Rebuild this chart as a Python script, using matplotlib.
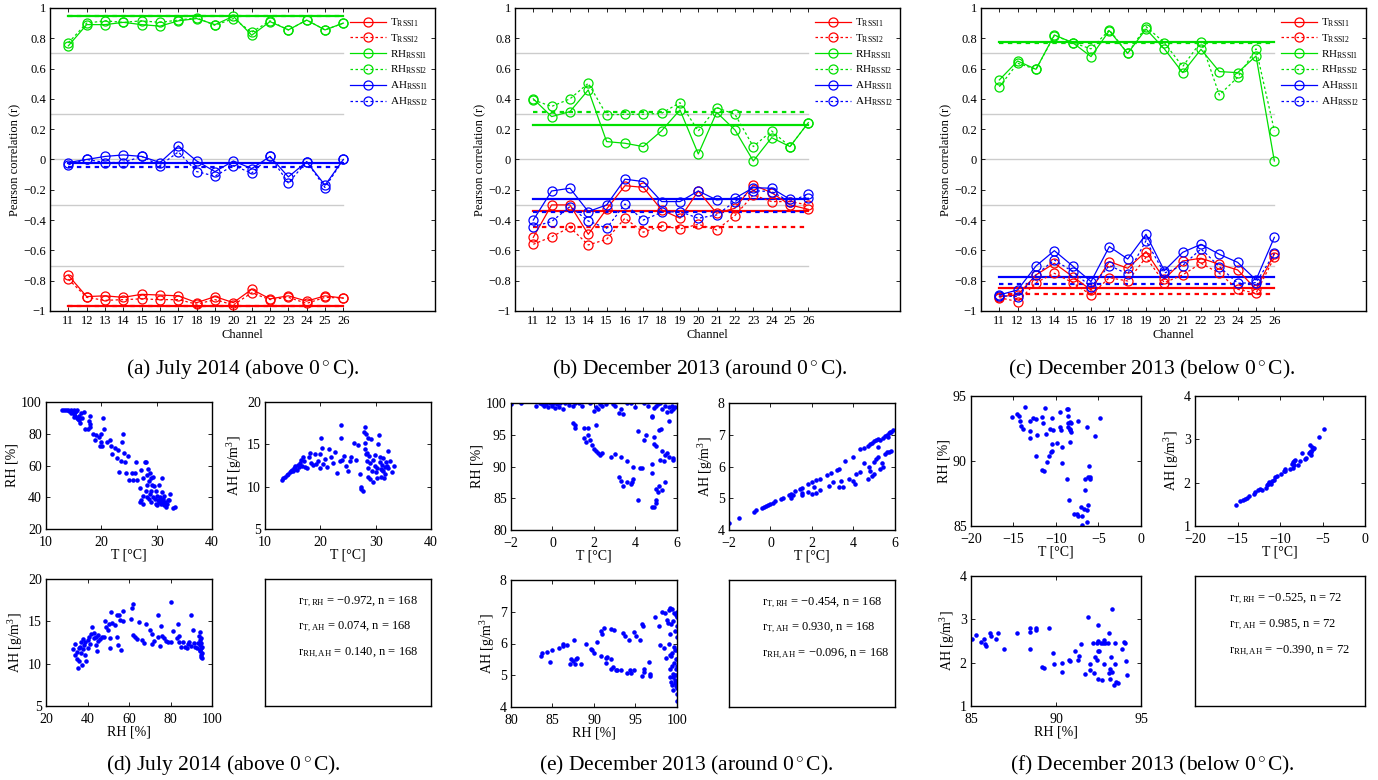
import matplotlib
matplotlib.use('Agg')
import matplotlib.pyplot as plt
from matplotlib.ticker import FuncFormatter

plt.rcParams['font.family'] = ['Liberation Serif', 'DejaVu Serif']
plt.rcParams['mathtext.fontset'] = 'custom'
plt.rcParams['mathtext.rm'] = 'Liberation Serif'
plt.rcParams['mathtext.it'] = 'Liberation Serif:italic'

channels = list(range(11, 27))

# (a) July 2014
a_T1 = [-0.765, -0.905, -0.90, -0.91, -0.89, -0.895, -0.90, -0.945, -0.905, -0.945, -0.857, -0.92, -0.90, -0.935, -0.90, -0.915]
a_T2 = [-0.79, -0.91, -0.93, -0.925, -0.92, -0.925, -0.925, -0.955, -0.925, -0.96, -0.88, -0.925, -0.91, -0.95, -0.91, -0.915]
a_RH1 = [0.75, 0.89, 0.89, 0.905, 0.89, 0.88, 0.915, 0.93, 0.89, 0.945, 0.82, 0.91, 0.855, 0.92, 0.855, 0.90]
a_RH2 = [0.77, 0.90, 0.915, 0.905, 0.915, 0.905, 0.92, 0.935, 0.885, 0.93, 0.84, 0.915, 0.855, 0.92, 0.855, 0.90]
a_AH1 = [-0.02, 0.0, 0.02, 0.03, 0.02, -0.02, 0.09, -0.01, -0.08, -0.01, -0.06, 0.02, -0.115, -0.015, -0.17, 0.0]
a_AH2 = [-0.035, 0.0, -0.02, -0.02, 0.02, -0.04, 0.05, -0.08, -0.11, -0.04, -0.09, 0.02, -0.155, -0.015, -0.185, 0.0]
a_means = [-0.965, -0.97, 0.95, 0.945, -0.02, -0.047]

# (b) December 2013, around 0 C
b_T1 = [-0.514, -0.30, -0.30, -0.494, -0.327, -0.173, -0.184, -0.333, -0.388, -0.208, -0.355, -0.322, -0.168, -0.219, -0.30, -0.329]
b_T2 = [-0.56, -0.51, -0.448, -0.564, -0.527, -0.388, -0.48, -0.437, -0.459, -0.428, -0.465, -0.37, -0.234, -0.278, -0.278, -0.30]
b_RH1 = [0.40, 0.283, 0.316, 0.459, 0.118, 0.107, 0.085, 0.19, 0.327, 0.036, 0.311, 0.195, -0.01, 0.144, 0.085, 0.243]
b_RH2 = [0.393, 0.35, 0.40, 0.503, 0.294, 0.298, 0.298, 0.305, 0.375, 0.188, 0.342, 0.298, 0.085, 0.188, 0.085, 0.243]
b_AH1 = [-0.40, -0.208, -0.19, -0.344, -0.30, -0.13, -0.146, -0.278, -0.278, -0.208, -0.267, -0.256, -0.186, -0.19, -0.263, -0.256]
b_AH2 = [-0.443, -0.41, -0.311, -0.406, -0.454, -0.294, -0.40, -0.349, -0.344, -0.388, -0.366, -0.278, -0.206, -0.212, -0.278, -0.228]
b_means = [-0.338, -0.448, 0.228, 0.316, -0.263, -0.349]

# (c) December 2013, below 0 C
c_T1 = [-0.905, -0.894, -0.762, -0.685, -0.773, -0.861, -0.674, -0.718, -0.608, -0.79, -0.67, -0.652, -0.692, -0.729, -0.857, -0.624]
c_T2 = [-0.912, -0.938, -0.813, -0.751, -0.813, -0.894, -0.78, -0.802, -0.646, -0.813, -0.762, -0.685, -0.751, -0.857, -0.883, -0.646]
c_RH1 = [0.525, 0.65, 0.595, 0.822, 0.771, 0.679, 0.85, 0.70, 0.861, 0.73, 0.573, 0.727, 0.58, 0.573, 0.683, -0.01]
c_RH2 = [0.48, 0.635, 0.595, 0.818, 0.771, 0.73, 0.855, 0.70, 0.877, 0.771, 0.613, 0.778, 0.426, 0.542, 0.73, 0.19]
c_AH1 = [-0.894, -0.861, -0.703, -0.602, -0.703, -0.806, -0.575, -0.657, -0.494, -0.734, -0.613, -0.56, -0.626, -0.679, -0.795, -0.514]
c_AH2 = [-0.90, -0.905, -0.762, -0.663, -0.74, -0.84, -0.70, -0.756, -0.536, -0.75, -0.70, -0.59, -0.707, -0.817, -0.813, -0.62]
c_means = [-0.85, -0.89, 0.776, 0.771, -0.778, -0.824]

series_labels = ['T$_{\\mathrm{RSSI1}}$', 'T$_{\\mathrm{RSSI2}}$', 'RH$_{\\mathrm{RSSI1}}$',
                 'RH$_{\\mathrm{RSSI2}}$', 'AH$_{\\mathrm{RSSI1}}$', 'AH$_{\\mathrm{RSSI2}}$']
top_captions = ['(a) July 2014 (above 0$^\\circ$C).', '(b) December 2013 (around 0$^\\circ$C).',
                '(c) December 2013 (below 0$^\\circ$C).']
bottom_captions = ['(d) July 2014 (above 0$^\\circ$C).', '(e) December 2013 (around 0$^\\circ$C).',
                   '(f) December 2013 (below 0$^\\circ$C).']

# scatter data (T, RH), (T, AH), (RH, AH)
d_T_RH = [(12.9,95),(13.3,95),(13.6,94.8),(14.0,95),(14.2,94.5),(14.5,95),(14.8,94),(15.0,95),(15.2,93.5),(15.4,94.6),
          (15.6,95),(15.0,92.5),(15.3,91),(15.6,90),(15.8,89),(16.0,88.5),(16.2,87),(16.5,90),(16.9,94),(14.6,93),
          (15.9,91.5),(16.3,93),(15.1,90.5),(17.0,83),(17.5,83),(18.0,86),(18.0,84),(17.8,88),(18.0,91),(18.5,80),
          (18.9,76),(19.0,79),(19.5,78),(19.9,80),(20.0,75),(20.2,72),(19.8,72),(20.3,90),(20.5,83),(21.0,75),
          (21.5,76),(21.8,72),(22.0,67),(22.5,71),(22.8,65),(23.0,70),(23.2,56),(23.5,63),(23.8,75),(23.9,80),
          (24.0,68),(24.2,62),(24.5,55),(24.8,66),(25.0,51),(25.5,55),(25.8,51),(26.0,55),(26.2,62),(26.5,51),
          (27.0,46),(27.2,57),(27.5,52),(27.8,62),(28.0,62),(28.2,54),(28.5,58),(28.6,50),(28.8,55),(29.0,52),
          (29.2,48),(29.5,47),(28.2,48),(28.0,44),(27.5,41),(27.2,38),(27.6,36),(27.0,37),(28.3,40),(28.8,42),
          (29.0,37),(29.3,40),(29.6,39),(29.8,44),(30.0,41),(30.2,38),(30.5,37),(30.6,40),(30.8,36),(31.0,43),
          (31.2,39),(31.4,35),(31.5,37),(31.6,34),(31.8,36),(32.0,38),(32.2,38),(31.3,41),(30.9,52),(30.0,35),
          (30.4,48),(29.4,53),(33.3,34),(33.0,33),(32.4,42),(29.9,36),(31.1,37),(30.7,38.5),(28.6,39),(28.9,44)]
d_T_AH = [(13.0,10.8),(13.3,11.0),(13.6,11.1),(14.0,11.4),(14.2,11.5),(14.5,11.7),(14.7,11.8),(14.9,12.0),(15.0,11.9),
          (15.2,12.2),(15.4,12.1),(15.5,12.4),(15.7,12.0),(15.9,12.6),(16.1,12.3),(16.3,12.8),(16.5,13.2),(16.7,12.4),
          (16.9,13.5),(17.0,13.0),(17.3,12.3),(17.6,12.2),(17.9,13.5),(18.1,14.0),(18.3,12.8),(18.6,12.6),(19.0,13.8),
          (19.3,12.7),(19.6,13.0),(19.9,12.2),(20.0,13.9),(20.2,15.8),(20.3,14.6),(20.5,12.7),(20.8,13.3),(21.2,12.3),
          (21.6,14.4),(21.9,13.5),(22.3,12.8),(22.6,14.1),(23.0,11.6),(23.5,13.0),(23.7,15.8),(23.8,17.3),(24.0,13.2),
          (24.3,13.6),(24.6,12.4),(25.0,11.9),(25.3,13.0),(25.6,13.5),(26.0,15.2),(26.5,13.1),(26.8,14.9),(27.1,11.5),
          (27.3,10.0),(27.4,9.7),(27.7,9.5),(27.8,16.5),(28.0,17.0),(28.0,15.2),(28.1,14.5),(28.3,16.2),(28.4,14.0),
          (28.5,13.0),(28.6,12.2),(28.7,15.7),(28.8,13.6),(28.9,10.9),(29.0,12.8),(29.2,15.6),(29.3,11.8),(29.5,10.5),
          (29.6,13.2),(29.8,12.5),(30.0,11.7),(30.2,11.0),(30.3,12.2),(30.5,15.0),(30.6,16.1),(30.7,13.5),(30.8,12.9),
          (31.0,11.2),(31.1,12.0),(31.2,12.6),(31.3,11.8),(31.4,13.4),(31.5,11.0),(31.6,12.3),(31.8,12.9),(32.0,12.5),
          (32.2,14.2),(32.3,12.2),(32.6,13.0),(33.0,11.7),(33.3,12.4),(30.9,12.1),(31.7,11.5),(29.9,13.7),(28.2,13.9),
          (28.6,11.2)]
d_RH_AH = [(33,11.7),(34,11.0),(34,12.3),(35,10.6),(35,11.4),(35.5,9.5),(36,11.8),(36,10.3),(36.5,12.0),(37,11.2),
           (37,12.6),(37.5,9.8),(38,11.7),(38,12.9),(38.5,12.2),(39,11.0),(39,12.5),(39.5,10.3),(40,11.8),(40,12.8),
           (40.5,13.1),(41,12.3),(41.5,13.5),(42,14.3),(43,13.0),(43,13.6),(44,12.2),(44,13.2),(44.5,11.5),(45,12.7),
           (45,13.4),(46,12.9),(47,13.2),(48,13.1),(48.5,15.0),(49,14.3),(50,14.0),(50.5,14.7),(51,13.0),(51,11.9),
           (51.5,16.1),(52,14.8),(53,14.6),(54,15.8),(54,13.2),(54.5,12.2),(55,15.8),(55.5,15.2),(56,11.6),(57,16.2),
           (57,15.0),(61,15.3),(61.5,16.6),(62,17.0),(62,13.4),(63,13.2),(64,12.9),(65,14.9),(66,12.8),(67,12.4),
           (68,14.7),(70,14.0),(71,12.3),(71,13.5),(72,12.7),(74,15.8),(74,13.2),(75,12.1),(75.5,14.5),(76,13.3),
           (77,13.0),(78,12.7),(79,12.6),(80,17.3),(80,12.5),(81,13.9),(83,13.0),(83.5,14.7),(84,12.5),(84,13.3),
           (85,12.0),(86,12.6),(87,12.0),(88,11.8),(88.5,12.3),(89,12.6),(90,15.8),(90,12.1),(91,14.0),(91.5,12.4),
           (92,12.0),(92.5,11.8),(93,12.4),(93.5,13.3),(94,11.5),(94,12.2),(94.2,13.7),(94.4,12.8),(94.5,11.9),
           (94.6,11.0),(94.8,12.4),(94.9,10.8),(95,12.0),(95,11.3),(94.7,13.0),(94.3,11.6),(95,10.7)]

e_T_RH = [(-2.0,99.8),(-1.5,100),(-0.8,99.6),(-0.6,100),(-0.4,99.5),(-0.3,99.8),(-0.2,99.3),(-0.1,100),(0.0,99.6),
          (0.05,100),(0.1,99.2),(0.2,99.8),(0.3,99.4),(0.5,99.0),(0.6,100),(0.8,99.7),(1.0,99.5),(1.1,100),(1.3,100),
          (1.4,99.6),(1.8,100),(2.0,98.8),(2.1,99.4),(2.2,99.1),(2.3,99.8),(2.4,99.5),(2.6,99.8),(3.0,99.6),(3.2,98.5),
          (3.3,99.0),(3.4,98.2),(3.8,100),(4.0,99.3),(4.4,100),(4.6,99.5),(4.8,98.0),(4.9,99.2),(5.0,99.5),(5.1,99.8),
          (5.2,100),(5.3,99.0),(5.4,99.6),(5.5,98.6),(5.6,99.3),(5.7,98.8),(5.75,99.5),(5.8,99.1),(5.9,99.3),(5.6,97.2),
          (3.6,100),(2.9,99.9),(0.35,100),(-0.5,99.9),
          (1.0,96.8),(1.1,96.6),(1.1,96.0),(1.5,96.0),(1.7,96.0),(2.1,96.5),(1.5,94.5),(1.6,93.8),(1.7,94.9),(1.8,94.2),
          (1.9,93.4),(2.0,92.7),(2.1,92.5),(2.2,92.1),(2.3,91.8),(2.4,92.2),(2.8,91.5),(3.0,92.0),(3.3,91.5),(3.6,90.8),
          (3.9,90.0),(4.2,89.8),(4.3,89.7),
          (3.2,88.4),(3.3,87.7),(3.4,87.0),(3.6,87.6),(3.8,87.3),(3.9,88.0),(3.85,87.5),(4.1,84.7),(4.8,83.6),(4.9,83.7),
          (5.0,84.3),(5.0,84.8),(5.0,86.4),(5.1,86.0),(5.15,86.9),(5.3,86.3),(5.4,87.6),(4.8,89.0),(4.8,90.4),(4.9,93.5),
          (5.0,93.3),(5.15,95.8),(5.25,95.9),(4.9,94.7),(4.4,94.1),(4.5,95.0),(4.1,95.6),(5.3,92.4),(5.4,91.8),(5.5,92.1),
          (5.6,91.5),(5.8,91.0),(5.8,91.4),(5.2,91.1),(5.35,90.8),(4.8,97.8)]
e_T_AH = [(-2.0,4.22),(-1.5,4.37),(-0.8,4.57),(-0.7,4.63),(-0.4,4.69),(-0.3,4.73),(-0.2,4.76),(-0.1,4.79),(0.0,4.83),
          (0.1,4.86),(0.2,4.9),(0.5,4.98),(0.6,5.02),(0.9,5.1),(1.0,5.15),(1.2,5.22),(1.4,5.28),(1.5,5.32),(1.8,5.45),
          (2.0,5.5),(2.2,5.56),(2.4,5.62),(2.7,5.72),(2.9,5.8),(3.2,5.88),(3.3,5.93),(3.6,6.17),(4.0,6.3),(4.3,6.55),
          (4.5,6.58),(4.7,6.65),(4.8,6.7),(4.9,6.75),(5.0,6.8),(5.1,6.84),(5.2,6.88),(5.3,6.82),(5.4,6.9),(5.5,6.95),
          (5.6,7.0),(5.65,6.92),(5.7,7.05),(5.8,7.1),(5.9,7.14),(5.75,7.08),
          (1.0,5.02),(1.1,5.1),(1.5,5.1),(1.5,5.18),(1.8,5.2),(2.0,5.15),(2.1,5.35),(2.2,5.18),(2.4,5.27),(2.8,5.38),
          (3.0,5.5),(3.3,5.34),(3.4,5.55),(3.5,5.36),(3.8,5.6),(4.0,5.55),(4.05,5.45),(4.1,5.75),(4.3,5.82),(4.5,6.1),
          (4.7,5.6),(4.75,6.0),(4.8,5.85),(4.9,5.7),(5.0,6.15),(5.0,5.78),(5.1,6.25),(5.2,6.3),(5.3,5.92),(5.4,6.0),
          (5.5,6.4),(5.6,6.45),(5.7,6.45),(5.8,6.5),(5.2,6.62),(5.35,6.1)]
e_RH_AH = [(83.6,5.62),(83.7,5.7),(84.3,5.72),(84.7,5.42),(84.9,5.78),(85.8,5.85),(86.3,6.0),(86.3,5.92),(86.8,5.95),
           (87.1,5.35),(87.2,5.5),(87.5,5.45),(87.6,6.12),(87.7,5.35),(87.8,5.5),(88.0,5.55),(88.4,5.35),(89.0,5.98),
           (89.6,5.82),(89.8,5.78),(90.0,5.7),(90.4,6.05),(90.8,5.62),(90.9,6.4),(91.0,6.3),(91.2,6.48),(91.4,5.55),
           (91.5,5.4),(91.6,5.58),(92.0,6.45),(92.0,5.5),(92.1,5.2),(92.3,5.25),(92.4,6.44),(92.6,5.18),(92.8,5.18),
           (93.3,5.15),(93.5,6.32),(93.7,6.25),(94.0,5.08),(94.2,6.12),(94.3,5.15),(94.5,5.06),(94.8,5.15),(94.8,6.35),
           (95.1,6.25),(95.6,6.12),(95.8,6.6),(95.9,6.55),(95.8,4.98),(96.0,5.1),(96.0,5.2),(96.6,5.42),(96.7,5.05),
           (96.8,4.98),(97.3,6.85),(97.8,6.55),(98.0,5.95),(98.2,7.0),(98.4,5.85),(98.5,6.95),(98.7,5.55),(98.8,6.75),
           (98.9,6.65),(99.0,7.05),(99.0,6.0),(99.1,4.95),(99.1,6.3),(99.2,5.2),(99.2,7.12),(99.3,4.8),(99.3,5.6),
           (99.4,7.1),(99.4,4.7),(99.5,5.05),(99.5,6.7),(99.5,4.55),(99.6,5.4),(99.6,6.95),(99.7,4.85),(99.7,5.8),
           (99.8,5.0),(99.8,6.4),(99.9,4.65),(99.9,5.5),(99.9,6.9),(100,4.2),(100,4.4),(100,4.6),(100,4.8),(100,5.0),
           (100,5.3),(100,5.5),(100,5.8),(100,6.2),(100,6.55),(100,6.85),(100,7.0),(99.85,5.2),(99.75,4.75),
           (99.65,5.9),(99.55,4.95),(99.45,5.3),(99.35,5.7),(99.25,6.6),(99.15,5.65)]

f_T_RH = [(-15.2,93.4),(-14.6,93.6),(-14.4,93.5),(-14.2,93.1),(-14.1,92.7),(-13.9,92.5),(-13.6,94.15),(-13.1,93.05),
          (-13.1,92.3),(-13.1,91.8),(-12.7,93.3),(-12.4,93.2),(-12.4,90.4),(-12.2,92.0),(-11.6,93.4),(-11.5,92.9),
          (-11.3,94.1),(-11.2,92.05),(-11.6,89.3),(-11.4,89.2),(-11.0,89.9),(-10.8,90.4),(-10.6,90.7),(-10.5,90.8),
          (-10.7,92.5),(-10.4,92.4),(-10.5,93.3),(-10.5,91.3),(-9.9,91.4),(-9.5,93.8),(-9.5,92.6),(-9.4,92.4),
          (-9.3,89.85),(-9.25,91.1),(-8.75,88.6),(-8.7,94.0),(-8.55,94.0),(-8.6,93.45),(-8.6,92.9),(-8.55,92.6),
          (-8.4,92.4),(-8.3,93.0),(-8.25,92.9),(-8.4,91.5),(-8.5,87.0),(-8.3,92.45),(-8.25,92.2),(-7.4,93.1),
          (-7.85,85.9),(-7.5,85.9),(-7.4,85.75),(-7.1,86.5),(-6.9,85.8),(-6.9,85.1),(-6.7,86.3),(-6.55,87.75),
          (-6.55,88.6),(-6.35,86.2),(-6.4,85.3),(-6.3,92.6),(-6.2,86.6),(-6.15,89.6),(-6.2,88.8),(-6.0,88.8),
          (-6.0,88.6),(-5.4,91.9),(-4.8,93.3)]
f_T_AH = [(-15.2,1.49),(-14.7,1.57),(-14.4,1.59),(-14.1,1.62),(-13.9,1.65),(-13.6,1.70),(-13.1,1.75),(-12.9,1.78),
          (-12.6,1.82),(-12.35,1.85),(-12.15,1.82),(-11.6,1.88),(-11.55,1.94),(-11.4,1.98),(-11.25,2.02),(-11.05,1.98),
          (-10.9,2.04),(-10.7,2.07),(-10.55,2.12),(-10.35,2.15),(-9.9,2.21),(-9.5,2.28),(-9.45,2.26),(-9.4,2.31),
          (-8.8,2.31),(-8.6,2.42),(-8.5,2.47),(-8.4,2.5),(-8.25,2.52),(-8.5,2.33),(-8.3,2.41),(-7.9,2.40),(-7.6,2.5),
          (-7.4,2.69),(-7.05,2.55),(-6.9,2.56),(-6.65,2.68),(-6.5,2.7),(-6.4,2.7),(-6.45,2.86),(-6.4,2.63),(-6.35,2.72),
          (-6.2,2.82),(-6.1,2.77),(-6.0,2.8),(-5.4,3.05),(-4.85,3.23)]
f_RH_AH = [(85.05,2.55),(85.3,2.64),(85.6,2.47),(85.75,2.55),(85.85,2.43),(85.9,2.38),(86.1,2.68),(86.2,2.62),
           (86.5,2.55),(86.6,2.69),(86.95,2.31),(87.7,2.68),(88.5,2.70),(88.5,2.31),(88.5,2.8),(88.8,2.8),(88.8,2.75),
           (89.6,2.8),(89.2,1.9),(89.3,1.87),(89.8,2.23),(89.9,1.98),(90.35,2.0),(90.35,1.78),(90.75,2.07),(90.8,2.04),
           (91.1,2.27),(91.3,2.07),(91.35,2.16),(91.5,2.42),(91.7,1.73),(91.9,3.05),(92.0,1.98),(92.0,1.84),(92.15,2.46),
           (92.25,1.75),(92.3,2.12),(92.4,2.45),(92.4,2.05),(92.45,2.5),(92.45,1.63),(92.5,2.28),(92.5,2.87),(92.55,2.28),
           (92.65,2.46),(92.7,1.6),(92.75,2.46),(92.8,2.52),(92.8,1.98),(92.9,2.46),(93.05,2.45),(93.1,2.69),(93.1,1.75),
           (93.15,1.62),(93.2,1.85),(93.25,2.13),(93.3,1.79),(93.3,3.23),(93.4,1.48),(93.45,1.98),(93.5,2.46),
           (93.55,1.56),(93.65,1.53),(93.9,2.31),(94.0,2.48),(94.05,2.46),(94.1,2.03),(94.15,1.71)]

d_corr = ['\u22120.972', '0.074', '0.140']
e_corr = ['\u22120.454', '0.930', '\u22120.096']
f_corr = ['\u22120.525', '0.985', '\u22120.390']
d_n, e_n, f_n = 168, 168, 72


def fmt_g(v, p):
    s = '%g' % round(v, 6)
    if s == '-0':
        s = '0'
    return s.replace('-', '\u2212')


def style_ax(ax, fs, xpad=3):
    ax.tick_params(direction='in', top=True, right=True, labelsize=fs, length=3, width=0.6, pad=3)
    ax.tick_params(axis='x', pad=xpad)
    for sp in ax.spines.values():
        sp.set_linewidth(1.0)


fig = plt.figure(figsize=(13.78, 7.80), dpi=100)

top_data = [
    (a_T1, a_T2, a_RH1, a_RH2, a_AH1, a_AH2, a_means),
    (b_T1, b_T2, b_RH1, b_RH2, b_AH1, b_AH2, b_means),
    (c_T1, c_T2, c_RH1, c_RH2, c_AH1, c_AH2, c_means),
]
top_lefts = [0.0363, 0.3737, 0.7119]
colors = ['red', 'red', '#00e000', '#00e000', 'blue', 'blue']
styles = ['-', (0, (2, 2)), '-', (0, (2, 2)), '-', (0, (2, 2))]
caption_x = [243, 700, 1152]

for k, data in enumerate(top_data):
    ax = fig.add_axes([top_lefts[k], 0.6013, 0.2794, 0.3885])
    for g in [0.7, 0.3, 0.0, -0.3, -0.7]:
        ax.plot([10, 26], [g, g], color='#cccccc', lw=1.0, zorder=1)
    means = data[6]
    for i in range(6):
        ax.plot([11, 26], [means[i], means[i]], color=colors[i], ls=styles[i], lw=1.6, zorder=2)
    for i in range(6):
        ax.plot(channels, data[i], color=colors[i], ls=styles[i], lw=0.9, marker='o',
                ms=6.5, mfc='none', mew=0.9, label=series_labels[i], zorder=3)
    ax.set_xlim(10, 31)
    ax.set_ylim(-1, 1)
    ax.set_xticks(channels)
    ax.set_yticks([-1 + 0.2 * j for j in range(11)])
    ax.yaxis.set_major_formatter(FuncFormatter(fmt_g))
    style_ax(ax, 9)
    ax.set_xlabel('Channel', fontsize=9, labelpad=1)
    ax.set_ylabel('Pearson correlation (r)', fontsize=9, labelpad=2)
    ax.legend(loc='upper left', bbox_to_anchor=(0.78, 0.972), frameon=False, fontsize=8,
              handlelength=3.2, handletextpad=0.4, labelspacing=0.3, borderaxespad=0, borderpad=0, numpoints=1)
    fig.text(caption_x[k] / 1378, 1 - 369 / 780, top_captions[k], ha='center', va='center', fontsize=15.5)

# bottom scatter panels
groups = [
    dict(sets=[d_T_RH, d_T_AH, d_RH_AH], corr=d_corr, n=d_n,
         lefts=[0.0334, 0.1923], bottoms=[0.3218, 0.0949], w=0.1205, h=0.1628,
         lims=[((10, 40), (20, 100)), ((10, 40), (5, 20)), ((20, 100), (5, 20))],
         ticks=[([10, 20, 30, 40], [20, 40, 60, 80, 100]), ([10, 20, 30, 40], [5, 10, 15, 20]),
                ([20, 40, 60, 80, 100], [5, 10, 15, 20])]),
    dict(sets=[e_T_RH, e_T_AH, e_RH_AH], corr=e_corr, n=e_n,
         lefts=[0.3708, 0.5290], bottoms=[0.3205, 0.0936], w=0.1205, h=0.1628,
         lims=[((-2, 6), (80, 100)), ((-2, 6), (4, 8)), ((80, 100), (4, 8))],
         ticks=[([-2, 0, 2, 4, 6], [80, 85, 90, 95, 100]), ([-2, 0, 2, 4, 6], [4, 5, 6, 7, 8]),
                ([80, 85, 90, 95, 100], [4, 5, 6, 7, 8])]),
    dict(sets=[f_T_RH, f_T_AH, f_RH_AH], corr=f_corr, n=f_n,
         lefts=[0.7046, 0.8672], bottoms=[0.3256, 0.0949], w=0.1234, h=0.1667,
         lims=[((-20, 0), (85, 95)), ((-20, 0), (1, 4)), ((85, 95), (1, 4))],
         ticks=[([-20, -15, -10, -5, 0], [85, 90, 95]), ([-20, -15, -10, -5, 0], [1, 2, 3, 4]),
                ([85, 90, 95], [1, 2, 3, 4])]),
]
xlabels = ['T [\u00b0C]', 'T [\u00b0C]', 'RH [%]']
ylabels = ['RH [%]', 'AH [g/m$^3$]', 'AH [g/m$^3$]']
corr_names = ['T,RH', 'T,AH', 'RH,AH']
bcap_x = [223, 686, 1152]

for k, g in enumerate(groups):
    pos = [(g['lefts'][0], g['bottoms'][0]), (g['lefts'][1], g['bottoms'][0]), (g['lefts'][0], g['bottoms'][1])]
    for j in range(3):
        ax = fig.add_axes([pos[j][0], pos[j][1], g['w'], g['h']])
        xs = [p[0] for p in g['sets'][j]]
        ys = [p[1] for p in g['sets'][j]]
        ax.plot(xs, ys, ls='none', marker='.', ms=4.5, color='blue')
        ax.set_xlim(*g['lims'][j][0])
        ax.set_ylim(*g['lims'][j][1])
        ax.set_xticks(g['ticks'][j][0])
        ax.set_yticks(g['ticks'][j][1])
        ax.xaxis.set_major_formatter(FuncFormatter(fmt_g))
        ax.yaxis.set_major_formatter(FuncFormatter(fmt_g))
        style_ax(ax, 10, xpad=5)
        ax.set_xlabel(xlabels[j], fontsize=10, labelpad=0)
        ax.set_ylabel(ylabels[j], fontsize=10, labelpad=2)
    tax = fig.add_axes([g['lefts'][1], g['bottoms'][1], g['w'], g['h']])
    tax.set_xticks([])
    tax.set_yticks([])
    for sp in tax.spines.values():
        sp.set_linewidth(1.0)
    for j in range(3):
        tax.text(0.2, 0.82 - 0.2 * j, 'r$_{\\mathrm{%s}}$ = %s, n = %d' % (corr_names[j], g['corr'][j], g['n']),
                 transform=tax.transAxes, fontsize=9, va='center', ha='left')
    fig.text(bcap_x[k] / 1378, 1 - 765 / 780, bottom_captions[k], ha='center', va='center', fontsize=15.5)

fig.savefig('out.png', dpi=100)
